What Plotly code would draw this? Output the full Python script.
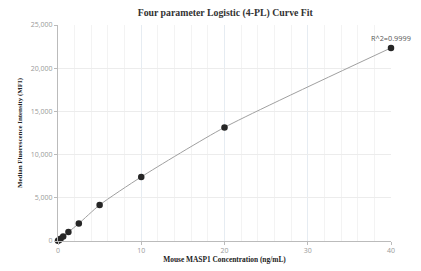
import plotly.graph_objects as go

conc = [0, 0.156, 0.3125, 0.625, 1.25, 2.5, 5, 10, 20, 40]
mfi = [30, 130, 260, 520, 1030, 2020, 4170, 7420, 13150, 22350]
x_ticks = [0, 10, 20, 30, 40]
y_ticks = [0, 5000, 10000, 15000, 20000, 25000]
y_tick_labels = ["0", "5,000", "10,000", "15,000", "20,000", "25,000"]

fig = go.Figure()
fig.add_trace(go.Scatter(x=conc, y=mfi, mode="lines", line=dict(color="#a0a0a0", width=1, shape="spline", smoothing=0.6),
                         hoverinfo="skip", showlegend=False, cliponaxis=False))
fig.add_trace(go.Scatter(x=conc, y=mfi, mode="markers", marker=dict(color="#262626", size=6.5),
                         showlegend=False, cliponaxis=False))
fig.add_annotation(x=conc[-1], y=mfi[-1], text="R^2=0.9999", showarrow=False, yshift=10, xshift=0,
                   font=dict(family="Open Sans, Arial, sans-serif", size=7.3, color="#555"))

fig.update_layout(
    width=421, height=271,
    margin=dict(l=58, r=30, t=25, b=29.5),
    paper_bgcolor="white", plot_bgcolor="white",
    title=dict(text="<b>Four parameter Logistic (4-PL) Curve Fit</b>", x=0.535, xanchor="center", y=0.953, yanchor="middle",
               font=dict(family="Liberation Serif, Times New Roman, serif", size=9.8, color="#333")),
    xaxis=dict(range=[0, 40], tickvals=x_ticks, ticks="outside", ticklen=3, tickcolor="#bbb",
               showline=True, linecolor="#bbb", linewidth=1, automargin=False,
               showgrid=True, gridcolor="#e6ecf2", gridwidth=1,
               minor=dict(dtick=2, showgrid=True, gridcolor="#f3f3f3", gridwidth=1),
               zeroline=False,
               tickfont=dict(family="Open Sans, Arial, sans-serif", size=7, color="#999"),
               title=dict(text="<b>Mouse MASP1 Concentration (ng/mL)</b>", standoff=1,
                          font=dict(family="Liberation Serif, Times New Roman, serif", size=7.4, color="#222"))),
    yaxis=dict(range=[0, 25000], tickvals=y_ticks, ticktext=y_tick_labels, ticks="outside", ticklen=3, tickcolor="#bbb",
               showline=True, linecolor="#bbb", linewidth=1, automargin=False,
               showgrid=True, gridcolor="#ececec", gridwidth=1, zeroline=False,
               tickfont=dict(family="Open Sans, Arial, sans-serif", size=7, color="#999"),
               title=dict(text="<b>Median Fluorescence Intensity (MFI)</b>", standoff=7,
                          font=dict(family="Liberation Serif, Times New Roman, serif", size=6.9, color="#222"))),
)

fig.write_html("out.html", config={"displayModeBar": False},
               post_script="document.body.style.margin='0';document.body.style.overflow='hidden';")
